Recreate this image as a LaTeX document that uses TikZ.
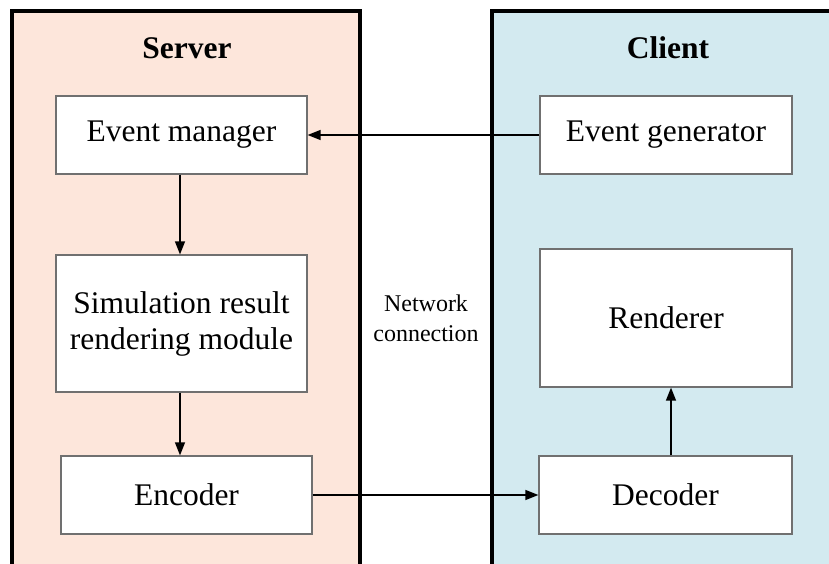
\documentclass[tikz,border=0pt]{standalone}
\usepackage{fontspec}
\setmainfont{Liberation Serif}
\usetikzlibrary{arrows.meta}
\definecolor{serverfill}{HTML}{FDE6DB}
\definecolor{clientfill}{HTML}{D3EAF0}
\definecolor{boxline}{HTML}{707070}
\tikzset{
  panel/.style={draw=black, line width=4pt},
  modbox/.style={draw=boxline, line width=1.3pt, fill=white, align=center, font=\fontsize{31.5}{36}\selectfont, inner sep=0pt},
  title/.style={font=\fontsize{31.5}{34}\selectfont\bfseries},
  conn/.style={draw=black, line width=1.4pt, -{Triangle[length=13pt,width=10pt]}}
}
\begin{document}
\begin{tikzpicture}[x=1pt,y=-1pt]
\useasboundingbox (0,0) rectangle (829,563);
\begin{scope}
\clip (0,0) rectangle (829,563);
\fill[white] (0,0) rectangle (829,563);
\draw[panel, fill=serverfill] (12,11) rectangle (360,580);
\draw[panel, fill=clientfill] (492,11) rectangle (850,580);
\end{scope}
\node[title] (server) at (187,48) {Server};
\node[title] (client) at (668,48) {Client};
\node[modbox, minimum width=251pt, minimum height=78pt] (em) at (181.5,135) {Event manager};
\node[modbox, minimum width=251pt, minimum height=137pt] (sim) at (181.5,323.5) {Simulation result\\rendering module};
\node[modbox, minimum width=251pt, minimum height=78pt] (enc) at (186.5,495) {Encoder};
\node[modbox, minimum width=252pt, minimum height=78pt] (eg) at (666,135) {Event generator};
\node[modbox, minimum width=252pt, minimum height=138pt] (ren) at (666,318) {Renderer};
\node[modbox, minimum width=253pt, minimum height=78pt] (dec) at (665.5,495) {Decoder};
\node[align=center, font=\fontsize{24}{30}\selectfont] (net) at (426,318) {Network\\connection};
\draw[conn] (eg.west) -- (em.east);
\draw[conn] (em.south -| 180,0) -- (sim.north -| 180,0);
\draw[conn] (sim.south -| 180,0) -- (enc.north -| 180,0);
\draw[conn] (enc.east) -- (dec.west);
\draw[conn] (dec.north -| 671,0) -- (ren.south -| 671,0);
\end{tikzpicture}
\end{document}
